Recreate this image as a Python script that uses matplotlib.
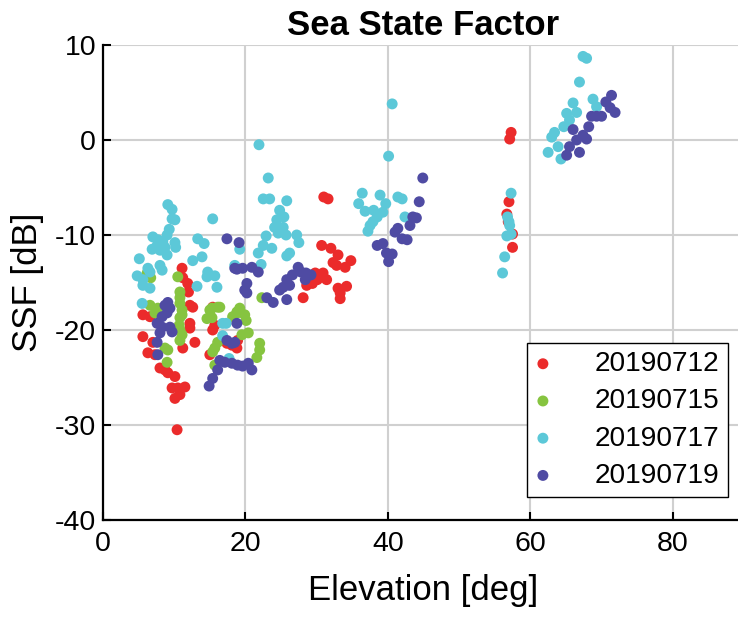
import matplotlib
matplotlib.use('Agg')
import matplotlib.pyplot as plt

plt.rcParams['font.family'] = ['Liberation Sans', 'DejaVu Sans']
plt.rcParams['axes.unicode_minus'] = False

# 20190712
red_x = [5.6, 6.6, 5.6, 7.0, 6.3, 7.3, 8.0, 8.7, 9.1, 10.1, 9.7, 10.5, 10.8, 10.1, 10.4,
         11.1, 11.2, 11.9, 12.0, 12.2, 12.6, 12.2, 12.2, 12.9, 11.2, 11.5,
         15.4, 15.7, 15.4, 15.0, 17.4, 18.1, 18.8, 18.9,
         30.7, 32.0, 33.0, 32.3, 34.8, 34.0, 30.9, 31.4, 29.8, 30.1, 28.6, 29.4,
         33.0, 34.2, 33.3, 33.3, 28.1, 31.0, 31.6, 32.8,
         57.3, 57.1, 57.0, 56.7, 57.5, 57.5, 56.9]
red_y = [-18.4, -18.6, -20.7, -21.3, -22.4, -22.6, -24.0, -24.2, -24.5, -24.9, -26.1, -26.1, -26.8, -27.2, -30.5,
         -13.5, -14.5, -15.1, -16.0, -17.4, -17.6, -19.3, -19.8, -21.3, -21.9, -26.0,
         -17.6, -19.5, -20.0, -22.6, -21.4, -21.6, -21.9, -21.1,
         -11.1, -11.4, -12.1, -12.9, -12.7, -13.4, -14.0, -14.7, -14.0, -14.7, -15.3, -15.1,
         -15.6, -15.4, -16.1, -16.7, -16.6, -6.0, -6.2, -13.2,
         0.8, 0.1, -6.5, -7.8, -9.9, -11.3, -8.6]

# 20190715
green_x = [6.2, 6.7, 10.5, 10.8, 10.8, 10.8, 11.1, 11.1, 10.8, 10.7, 10.8, 11.1, 10.8,
           6.6, 7.7, 7.3, 8.7, 9.1, 9.0,
           15.0, 16.1, 14.6, 15.7, 15.4, 16.1, 18.2, 18.8, 19.9, 19.5, 15.3, 16.4,
           19.2, 18.9, 20.4, 22.0, 21.6, 22.0, 15.7, 22.3, 20.1, 15.3]
green_y = [-14.0, -14.5, -14.4, -16.0, -16.6, -17.2, -17.9, -18.4, -18.7, -19.5, -20.0, -20.5, -21.1,
           -17.4, -17.7, -18.2, -21.9, -22.1, -23.4,
           -17.9, -17.6, -18.8, -21.9, -22.3, -21.3, -18.6, -18.1, -18.4, -20.5, -17.7, -17.6,
           -17.7, -18.2, -20.3, -21.4, -22.9, -22.1, -23.7, -16.6, -19.0, -18.7]

# 20190717
cyan_x = [9.1, 9.7, 9.7, 10.1, 15.4, 9.3, 9.0, 7.0, 7.7, 8.4, 10.1, 7.6, 6.9, 8.0, 8.7, 10.2,
          9.0, 13.3, 14.2, 5.1, 13.9, 12.6, 6.3, 6.6, 8.0, 8.3, 4.8, 5.6, 14.7, 15.7, 14.6,
          13.2, 16.0, 18.5, 19.2, 5.6, 6.6, 5.5, 16.8, 17.3, 16.8, 17.7,
          21.9, 23.2, 22.5, 23.4, 25.8, 24.8, 24.4, 25.4, 24.1, 25.3, 24.6, 25.7, 22.9,
          27.2, 27.5, 22.5, 23.7, 21.8, 26.2, 25.8, 22.2,
          40.6, 40.1, 36.4, 38.9, 35.9, 39.7, 36.8, 38.0, 39.3, 41.4, 42.0, 38.5, 37.9,
          37.5, 37.2, 42.4,
          57.3, 56.8, 57.0, 57.1, 56.7, 57.3, 56.4, 56.1,
          67.4, 67.9, 66.9, 68.8, 66.0, 65.1, 66.5, 65.5, 69.3, 64.7, 63.4, 63.0, 63.9,
          62.5, 64.3]
cyan_y = [-6.8, -7.3, -8.3, -8.4, -8.3, -9.4, -10.0, -10.2, -10.5, -10.7, -10.8, -11.1, -11.5, -11.6, -11.3, -11.3,
          -12.1, -10.4, -10.9, -12.5, -12.3, -12.7, -13.5, -13.9, -13.2, -13.7, -14.3, -14.7, -13.9, -14.3, -14.4,
          -15.4, -15.5, -13.2, -11.5, -15.3, -15.6, -17.2, -19.3, -19.3, -20.6, -23.0,
          -0.5, -4.0, -6.2, -6.2, -6.4, -7.4, -8.4, -8.1, -9.2, -9.2, -9.8, -10.0, -10.1,
          -10.0, -10.8, -11.1, -11.4, -11.9, -11.9, -12.2, -13.1,
          3.8, -1.7, -5.6, -5.8, -6.7, -6.7, -7.5, -7.4, -7.6, -6.0, -6.2, -8.1, -8.6,
          -9.0, -9.6, -8.1,
          -5.6, -8.1, -8.6, -9.0, -10.1, -9.9, -12.3, -14.0,
          8.8, 8.6, 6.1, 4.3, 3.9, 2.8, 2.9, 2.1, 3.5, 1.4, 0.8, 0.3, -0.7,
          -1.3, -2.0]

# 20190719
purple_x = [8.7, 9.4, 9.0, 8.3, 7.6, 8.3, 9.4, 9.7, 8.0, 7.6, 7.7, 9.1,
            17.4, 19.1, 18.8, 19.6, 18.5, 20.9, 21.8, 20.2, 19.9, 20.2, 18.8, 17.4, 18.1, 18.5,
            16.4, 17.1, 18.1, 18.9, 19.6, 20.4, 20.9, 16.1, 15.4, 14.9,
            23.0, 23.9, 24.8, 25.8, 26.2, 27.4, 27.8, 26.6, 28.5, 29.2, 25.8, 25.3, 28.4,
            44.9, 44.4, 43.5, 44.0, 43.1, 41.4, 41.0, 42.0, 42.7, 38.5, 39.3, 39.8, 40.6, 40.1,
            71.4, 70.6, 71.2, 71.9, 68.6, 69.3, 70.0, 68.2, 66.0, 67.4, 66.5, 67.9, 65.5, 66.9, 65.1]
purple_y = [-17.4, -17.7, -18.2, -18.6, -19.3, -19.7, -19.7, -20.2, -20.3, -21.3, -22.6, -17.1,
            -10.4, -10.8, -13.6, -13.5, -13.5, -13.4, -13.9, -15.1, -15.8, -16.1, -19.3, -21.1, -21.4, -21.3,
            -23.2, -23.4, -23.5, -23.7, -23.8, -23.5, -24.2, -24.2, -25.1, -25.9,
            -16.6, -17.1, -15.8, -16.8, -15.3, -13.4, -13.9, -14.2, -14.0, -14.2, -14.7, -15.5, -14.7,
            -4.0, -6.5, -8.1, -8.2, -9.0, -9.3, -9.7, -10.4, -10.5, -11.1, -10.9, -11.9, -12.0, -12.8,
            4.7, 4.0, 3.4, 2.9, 2.5, 2.5, 2.5, 1.4, 1.1, 0.5, 0.0, 0.1, -0.7, -1.3, -1.6]

fig = plt.figure(figsize=(7.38, 6.17), dpi=100)
ax = fig.add_axes([103 / 738, 97 / 617, 641 / 738, 475 / 617])

ms = 62
ax.scatter(red_x, red_y, s=ms, color='#EB2B2B', edgecolors='none', label='20190712', zorder=3)
ax.scatter(green_x, green_y, s=ms, color='#86C440', edgecolors='none', label='20190715', zorder=3)
ax.scatter(cyan_x, cyan_y, s=ms, color='#5CC8D8', edgecolors='none', label='20190717', zorder=3)
ax.scatter(purple_x, purple_y, s=ms, color='#4F4BA3', edgecolors='none', label='20190719', zorder=3)

ax.set_xlim(0, 90)
ax.set_ylim(-40, 10)
ax.set_xticks([0, 20, 40, 60, 80])
ax.set_yticks([-40, -30, -20, -10, 0, 10])
ax.grid(True, color='#D0D0D0', linewidth=1.5, zorder=0)
ax.set_axisbelow(True)
for s in ['top', 'right']:
    ax.spines[s].set_visible(False)
for s in ['left', 'bottom']:
    ax.spines[s].set_linewidth(1.6)
ax.tick_params(direction='in', length=6, width=1.5, labelsize=20.5)
ax.tick_params(axis='y', pad=5)
ax.tick_params(axis='x', pad=8)

ax.set_title('Sea State Factor', fontsize=25, fontweight='bold', pad=7)
ax.set_xlabel('Elevation [deg]', fontsize=25, labelpad=12)
ax.set_ylabel('SSF [dB]', fontsize=25, labelpad=8)

leg = ax.legend(loc='lower right', bbox_to_anchor=(0.975, 0.048), borderaxespad=0,
                fontsize=20.2, fancybox=False, framealpha=1, edgecolor='black',
                handlelength=0.5, handletextpad=1.6, labelspacing=0.4, borderpad=0.3,
                scatterpoints=1)
leg.get_frame().set_linewidth(1.0)

fig.savefig('out.png', dpi=100)
